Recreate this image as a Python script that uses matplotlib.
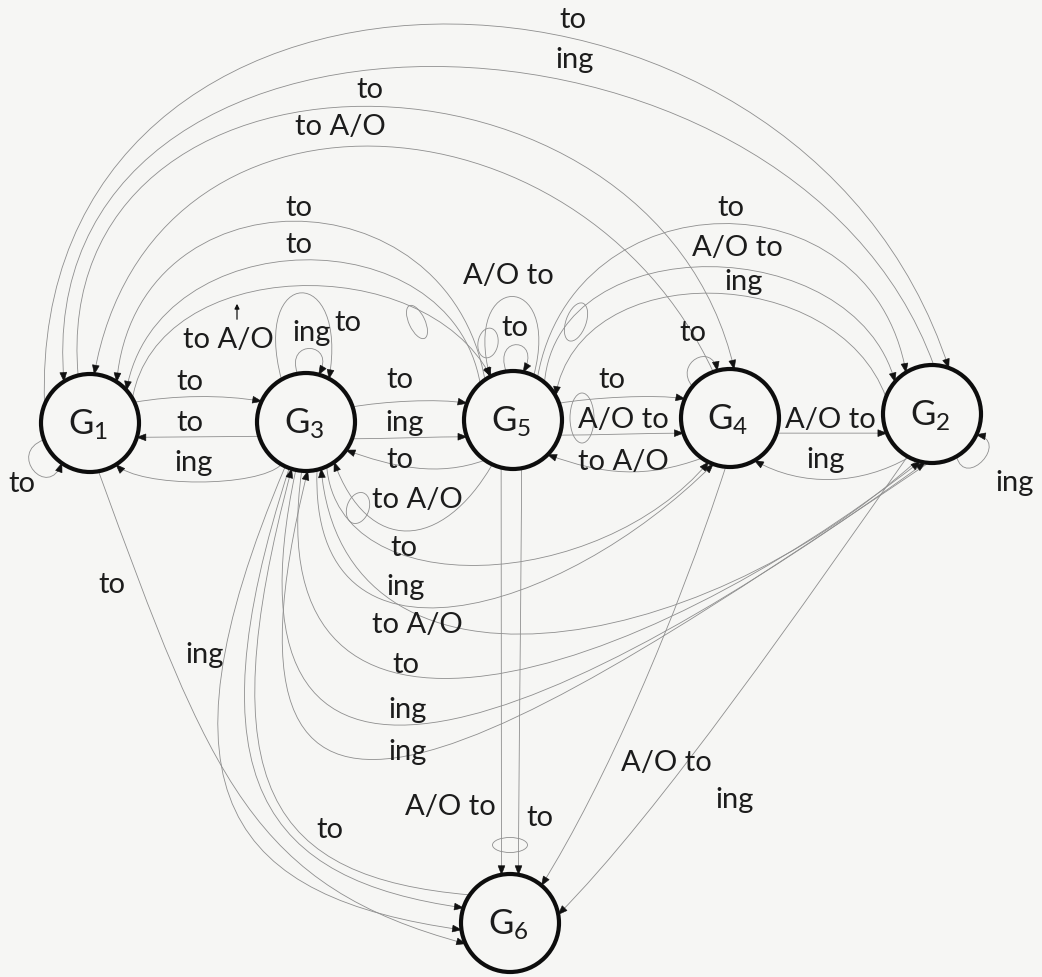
import numpy as np
import matplotlib
matplotlib.use("Agg")
import matplotlib.pyplot as plt
from matplotlib.path import Path
from matplotlib.patches import PathPatch, Circle, Polygon, Ellipse

plt.rcParams['font.family'] = ['Lato', 'DejaVu Sans']
plt.rcParams['mathtext.fontset'] = 'custom'
plt.rcParams['mathtext.rm'] = 'Lato'

# ---------------- data ----------------
node_names = ["G1", "G3", "G5", "G4", "G2", "G6"]
node_subs = ["1", "3", "5", "4", "2", "6"]

edge_src = ["G1", "G2", "G1", "G4", "G5", "G5", "G1", "G5", "G5", "G2",
            "G1", "G3", "G3", "G1", "G1", "G3", "G3", "G6",
            "G2", "G4", "G5", "G5", "G5", "G5", "G5", "G5", "G3", "G3", "G4",
            "G5", "G5", "G4", "G4", "G2", "G2", "G3", "G3",
            "G3", "G3", "G2", "G3", "G3", "G2"]
edge_dst = ["G2", "G1", "G4", "G1", "G1", "G1", "G5", "G2", "G2", "G5",
            "G3", "G1", "G1", "G1", "G6", "G6", "G6", "G3",
            "G6", "G6", "G6", "G6", "G3", "G3", "G5", "G5", "G3", "G3", "G4",
            "G4", "G4", "G5", "G2", "G4", "G2", "G5", "G5",
            "G4", "G4", "G3", "G2", "G2", "G3"]
edge_label = ["to", "ing", "to", "to A/O", "to", "to", "to A/O", "to", "A/O to", "ing",
              "to", "to", "ing", "to", "to", "ing", "to", "",
              "ing", "A/O to", "A/O to", "to", "to", "to A/O", "to", "A/O to", "ing", "to", "to",
              "to", "A/O to", "to A/O", "A/O to", "ing", "ing", "to", "ing",
              "to", "ing", "to A/O", "to", "ing", "ing"]

# ---------------- layout (pixel space) ----------------
node_x = [90, 306, 513, 730, 932, 510]
node_y = [423, 422, 420, 418, 414, 923]
R = 49
# per edge: src angle, handle len, handle dir, dst angle, handle len, handle dir
edge_geom = [
    (158, 500, 92, 70, 490, 108), (88, 420, 110, 122, 425, 95),
    (104, 360, 95, 85, 360, 103), (110, 320, 115, 85, 320, 80),
    (125, 215, 100, 57, 215, 85), (132, 172, 100, 42, 172, 80),
    (30, 145, 80, 117, 145, 118), (60, 205, 80, 122, 205, 100),
    (50, 157, 85, 139, 157, 105), (160, 143, 110, 30, 143, 80),
    (25, 40, 10, 155, 40, 170), (197, 30, 180, -17, 30, 0),
    (240, 33, 225, 302, 33, 315), (200, 40, 200, 235, 40, 250),
    (280, 330, 290, 205, 220, 165), (245, 360, 247, 188, 230, 172),
    (250, 330, 252, 162, 200, 172), (145, 200, 175, 253, 330, 255),
    (240, 170, 235, 10, 140, 45), (265, 160, 252, 50, 120, 58),
    (256, 100, 270, 100, 100, 90), (280, 100, 270, 80, 100, 90),
    (235, 50, 200, 325, 50, 340), (245, 100, 240, 305, 100, 290),
    (98, 40, 110, 78, 40, 60), (65, 110, 75, 118, 110, 105),
    (100, 38, 110, 75, 38, 60), (120, 118, 105, 62, 118, 80),
    (140, 30, 130, 105, 30, 100),
    (20, 30, 10, 157, 30, 170), (-18, 30, 0, 198, 30, 180),
    (235, 60, 200, 315, 60, 340), (-18, 30, 0, 203, 30, 180),
    (242, 55, 210, 300, 55, 330), (300, 35, 285, 335, 35, 350),
    (18, 30, 10, 160, 30, 170), (-20, 30, 0, 200, 30, 180),
    (295, 140, 275, 244, 170, 230), (283, 220, 268, 250, 215, 225),
    (252, 300, 222, 288, 250, 275), (265, 340, 262, 256, 360, 218),
    (258, 430, 258, 262, 440, 216), (266, 500, 214, 272, 500, 256),
]
label_xy = [
    (573, 20), (575, 60), (370, 90), (340, 127), (299, 208), (299, 245),
    (228, 340), (731, 208), (737, 248), (744, 282),
    (190, 382), (190, 423), (194, 463), (22, 484), (112, 585), (205, 655),
    (330, 830), (0, 0),
    (735, 800), (666, 763), (450, 807), (540, 818), (400, 460), (417, 500),
    (515, 328), (508, 276), (312, 333), (348, 323), (693, 333),
    (612, 380), (623, 420), (623, 462), (830, 420), (826, 460), (1015, 483),
    (400, 380), (405, 423),
    (404, 548), (406, 587), (417, 625), (406, 665), (408, 710), (408, 752),
]
# little hand-drawn crossing loops: (x, y, w, h, angle)
loops = [(417, 322, 16, 36, -25), (576, 322, 20, 40, 20), (510, 845, 35, 15, 0),
         (358, 508, 22, 32, 20), (582, 418, 24, 50, 0), (488, 343, 20, 30, 10)]

LINE_C = "#8e8e8e"
TEXT_C = "#1c1c1c"
BG = "#f6f6f4"

fig = plt.figure(figsize=(10.42, 9.77), dpi=100, facecolor=BG)
ax = fig.add_axes([0, 0, 1, 1], facecolor=BG)
ax.set_xlim(0, 1042)
ax.set_ylim(977, 0)
ax.set_aspect('equal')
ax.axis('off')

idx = {n: i for i, n in enumerate(node_names)}


def on_circle(n, th):
    i = idx[n]
    t = np.radians(th)
    return np.array([node_x[i] + R * np.cos(t), node_y[i] - R * np.sin(t)])


def handle(L, phi):
    p = np.radians(phi)
    return np.array([L * np.cos(p), -L * np.sin(p)])


for k, (s, d, lab) in enumerate(zip(edge_src, edge_dst, edge_label)):
    ts, l1, p1, td, l2, p2 = edge_geom[k]
    P0 = on_circle(s, ts)
    P3 = on_circle(d, td)
    P1 = P0 + handle(l1, p1)
    P2 = P3 + handle(l2, p2)
    path = Path([P0, P1, P2, P3], [Path.MOVETO, Path.CURVE4, Path.CURVE4, Path.CURVE4])
    ax.add_patch(PathPatch(path, fc='none', ec=LINE_C, lw=0.6, zorder=1))
    # arrow head at destination
    dvec = P3 - P2
    dvec = dvec / np.hypot(*dvec)
    perp = np.array([-dvec[1], dvec[0]])
    base = P3 - dvec * 9
    ax.add_patch(Polygon([P3, base + perp * 3.4, base - perp * 3.4], closed=True,
                         fc='#111111', ec='#111111', lw=0.4, zorder=3))
    if lab:
        lx, ly = label_xy[k]
        ax.text(lx, ly, lab, fontsize=21, color=TEXT_C, ha='center', va='center', zorder=4)

# pointer arrow from the "to A/O" label near G3
ax.annotate('', xy=(237, 301), xytext=(237, 322),
            arrowprops=dict(arrowstyle='-|>', color='#111111', lw=0.9,
                            mutation_scale=7), zorder=4)

for (x, y, w, h, a) in loops:
    ax.add_patch(Ellipse((x, y), w, h, angle=a, fc='none', ec=LINE_C, lw=0.6, zorder=1))

for i, n in enumerate(node_names):
    ax.add_patch(Circle((node_x[i], node_y[i]), R, fc=BG, ec='#0d0d0d', lw=3.0, zorder=2))
    ax.text(node_x[i] - 2, node_y[i] + 2, r'$\mathregular{G_{%s}}$' % node_subs[i],
            fontsize=25, color=TEXT_C, ha='center', va='center', zorder=4)

fig.savefig("out.png", dpi=100, facecolor=BG)
